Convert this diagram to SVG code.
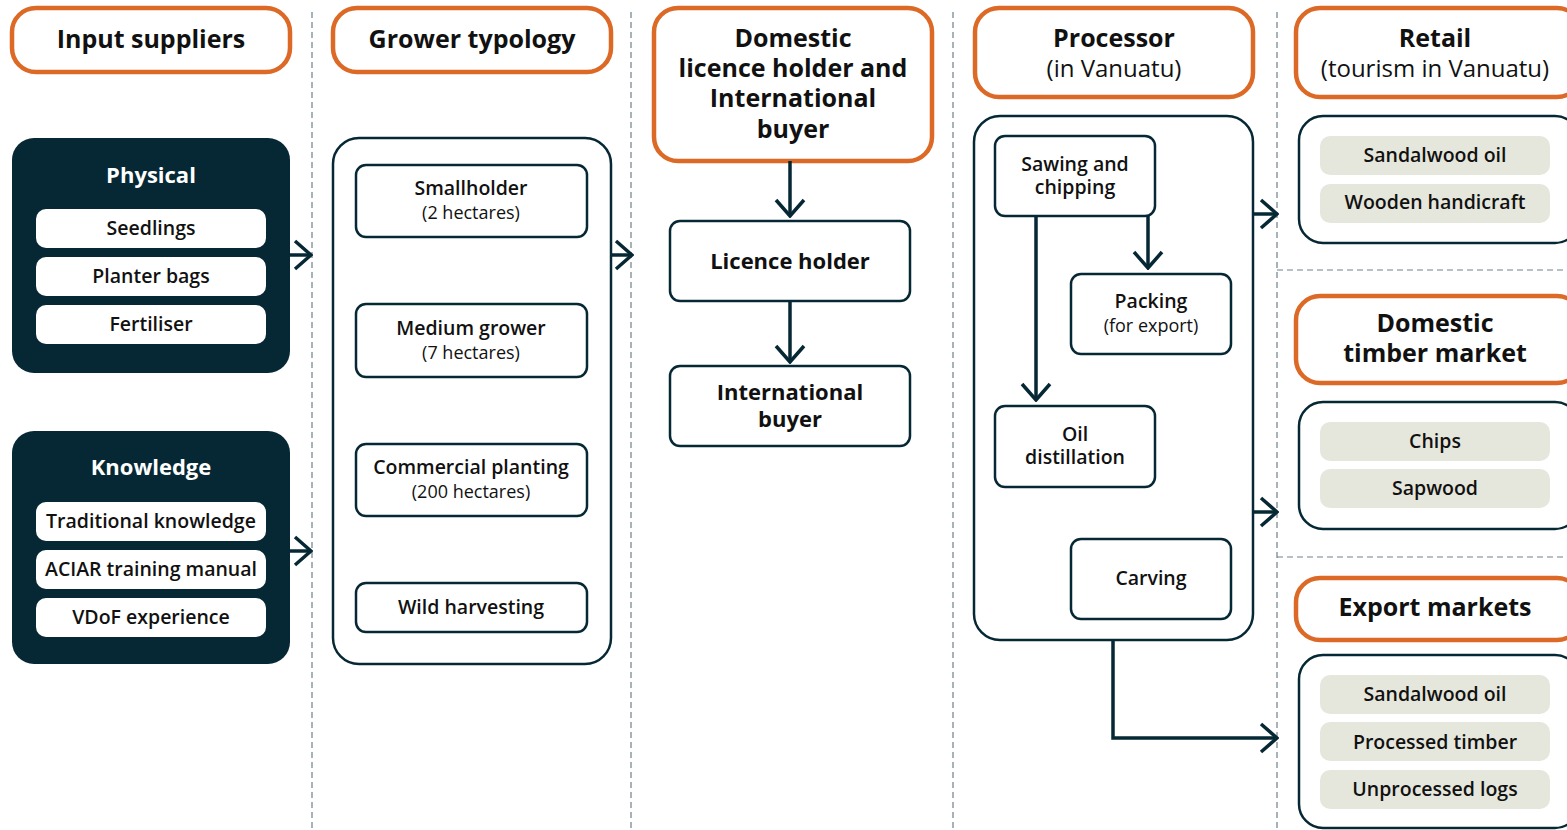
<svg xmlns="http://www.w3.org/2000/svg" width="1567" height="830" viewBox="0 0 1567 830">
<defs>
<style>
text{font-family:"Open Sans","Noto Sans","Liberation Sans",sans-serif;text-anchor:middle;fill:#111;}
.hdr{fill:#fff;stroke:#dc6a26;stroke-width:4.5;}
.ht{font-size:25px;font-weight:700;}
.hr{font-size:24px;font-weight:400;}
.dark{fill:#062835;}
.dt{font-size:22px;font-weight:700;fill:#fff;}
.pill{fill:#fff;}
.pt{font-size:19.5px;font-weight:600;}
.cont{fill:#fff;stroke:#062835;stroke-width:2.5;}
.box{fill:#fff;stroke:#062835;stroke-width:2.5;}
.bt{font-size:19.5px;font-weight:600;}
.br{font-size:18px;font-weight:400;}
.bt2{font-size:22px;font-weight:700;}
.beige{fill:#e6e7dc;}
.sep{stroke:#6f818b;stroke-width:1.2;stroke-dasharray:6 4;fill:none;}
.ln{stroke:#062835;stroke-width:3.5;fill:none;stroke-linejoin:miter;}
</style>
<marker id="chev" viewBox="0 0 20 32" refX="18" refY="16" markerWidth="20" markerHeight="32" markerUnits="userSpaceOnUse" orient="auto">
<path d="M2,2 L18,16 L2,30" fill="none" stroke="#062835" stroke-width="3.5"/>
</marker>
</defs>
<rect width="1567" height="830" fill="#fff"/>

<g id="separators">
<line class="sep" x1="312" y1="12" x2="312" y2="830"/>
<line class="sep" x1="631" y1="12" x2="631" y2="830"/>
<line class="sep" x1="953" y1="12" x2="953" y2="830"/>
<line class="sep" x1="1277" y1="12" x2="1277" y2="830"/>
<line class="sep" x1="1277" y1="270" x2="1567" y2="270"/>
<line class="sep" x1="1277" y1="557" x2="1567" y2="557"/>
</g>

<g id="hdr-input">
<rect class="hdr" x="12" y="8" width="278" height="64" rx="24"/>
<text class="ht" x="151" y="48">Input suppliers</text>
</g>
<g id="hdr-grower">
<rect class="hdr" x="333" y="8" width="278" height="64" rx="24"/>
<text class="ht" x="472" y="48">Grower typology</text>
</g>
<g id="hdr-domestic">
<rect class="hdr" x="654" y="8" width="278" height="153" rx="24"/>
<text class="ht"><tspan x="793" y="47">Domestic</tspan><tspan x="793" y="77">licence holder and</tspan><tspan x="793" y="107">International</tspan><tspan x="793" y="138">buyer</tspan></text>
</g>
<g id="hdr-processor">
<rect class="hdr" x="975" y="8" width="278" height="89" rx="24"/>
<text class="ht"><tspan x="1114" y="47">Processor</tspan><tspan class="hr" x="1114" y="77">(in Vanuatu)</tspan></text>
</g>
<g id="hdr-retail">
<rect class="hdr" x="1296" y="8" width="285" height="89" rx="24"/>
<text class="ht"><tspan x="1435" y="47">Retail</tspan><tspan class="hr" x="1435" y="77">(tourism in Vanuatu)</tspan></text>
</g>
<g id="hdr-timber">
<rect class="hdr" x="1296" y="296" width="285" height="87" rx="24"/>
<text class="ht"><tspan x="1435" y="332">Domestic</tspan><tspan x="1435" y="362">timber market</tspan></text>
</g>
<g id="hdr-export">
<rect class="hdr" x="1296" y="578" width="285" height="62" rx="24"/>
<text class="ht" x="1435" y="616">Export markets</text>
</g>

<g id="physical">
<rect class="dark" x="12" y="138" width="278" height="235" rx="22"/>
<text class="dt" x="151" y="183">Physical</text>
<rect class="pill" x="36" y="209" width="230" height="39" rx="10"/>
<text class="pt" x="151" y="235">Seedlings</text>
<rect class="pill" x="36" y="257" width="230" height="39" rx="10"/>
<text class="pt" x="151" y="283">Planter bags</text>
<rect class="pill" x="36" y="305" width="230" height="39" rx="10"/>
<text class="pt" x="151" y="331">Fertiliser</text>
</g>
<g id="knowledge">
<rect class="dark" x="12" y="431" width="278" height="233" rx="22"/>
<text class="dt" x="151" y="475">Knowledge</text>
<rect class="pill" x="36" y="502" width="230" height="39" rx="10"/>
<text class="pt" x="151" y="528">Traditional knowledge</text>
<rect class="pill" x="36" y="550" width="230" height="39" rx="10"/>
<text class="pt" x="151" y="576">ACIAR training manual</text>
<rect class="pill" x="36" y="598" width="230" height="39" rx="10"/>
<text class="pt" x="151" y="624">VDoF experience</text>
</g>

<g id="grower">
<rect class="cont" x="333" y="138" width="278" height="526" rx="26"/>
<rect class="box" x="356" y="165" width="231" height="72" rx="10"/>
<text class="bt"><tspan x="471" y="195">Smallholder</tspan><tspan class="br" x="471" y="219">(2 hectares)</tspan></text>
<rect class="box" x="356" y="304" width="231" height="73" rx="10"/>
<text class="bt"><tspan x="471" y="335">Medium grower</tspan><tspan class="br" x="471" y="359">(7 hectares)</tspan></text>
<rect class="box" x="356" y="444" width="231" height="72" rx="10"/>
<text class="bt"><tspan x="471" y="474">Commercial planting</tspan><tspan class="br" x="471" y="498">(200 hectares)</tspan></text>
<rect class="box" x="356" y="583" width="231" height="49" rx="10"/>
<text class="bt" x="471" y="614">Wild harvesting</text>
</g>

<g id="licence">
<rect class="box" x="670" y="221" width="240" height="80" rx="10"/>
<text class="bt2" x="790" y="269">Licence holder</text>
</g>
<g id="intl">
<rect class="box" x="670" y="366" width="240" height="80" rx="10"/>
<text class="bt2"><tspan x="790" y="400">International</tspan><tspan x="790" y="427">buyer</tspan></text>
</g>

<g id="processor">
<rect class="cont" x="974" y="116" width="279" height="524" rx="26"/>
<rect class="box" x="995" y="136" width="160" height="80" rx="10"/>
<text class="bt"><tspan x="1075" y="171">Sawing and</tspan><tspan x="1075" y="194">chipping</tspan></text>
<rect class="box" x="1071" y="274" width="160" height="80" rx="10"/>
<text class="bt"><tspan x="1151" y="308">Packing</tspan><tspan class="br" x="1151" y="332">(for export)</tspan></text>
<rect class="box" x="995" y="406" width="160" height="81" rx="10"/>
<text class="bt"><tspan x="1075" y="441">Oil</tspan><tspan x="1075" y="464">distillation</tspan></text>
<rect class="box" x="1071" y="539" width="160" height="80" rx="10"/>
<text class="bt" x="1151" y="585">Carving</text>
</g>

<g id="retail">
<rect class="cont" x="1299" y="116" width="280" height="127" rx="24"/>
<rect class="beige" x="1320" y="136" width="230" height="39" rx="10"/>
<text class="pt" x="1435" y="162">Sandalwood oil</text>
<rect class="beige" x="1320" y="184" width="230" height="39" rx="10"/>
<text class="pt" x="1435" y="209">Wooden handicraft</text>
</g>
<g id="timber">
<rect class="cont" x="1299" y="402" width="280" height="127" rx="24"/>
<rect class="beige" x="1320" y="422" width="230" height="39" rx="10"/>
<text class="pt" x="1435" y="448">Chips</text>
<rect class="beige" x="1320" y="469" width="230" height="39" rx="10"/>
<text class="pt" x="1435" y="495">Sapwood</text>
</g>
<g id="export">
<rect class="cont" x="1299" y="655" width="280" height="173" rx="24"/>
<rect class="beige" x="1320" y="675" width="230" height="39" rx="10"/>
<text class="pt" x="1435" y="701">Sandalwood oil</text>
<rect class="beige" x="1320" y="722" width="230" height="39" rx="10"/>
<text class="pt" x="1435" y="749">Processed timber</text>
<rect class="beige" x="1320" y="770" width="230" height="39" rx="10"/>
<text class="pt" x="1435" y="796">Unprocessed logs</text>
</g>

<g id="connectors">
<line class="ln" x1="290" y1="255" x2="311" y2="255" marker-end="url(#chev)"/>
<line class="ln" x1="290" y1="551" x2="311" y2="551" marker-end="url(#chev)"/>
<line class="ln" x1="611" y1="255" x2="632" y2="255" marker-end="url(#chev)"/>
<line class="ln" x1="790" y1="161" x2="790" y2="216" marker-end="url(#chev)"/>
<line class="ln" x1="790" y1="301" x2="790" y2="362" marker-end="url(#chev)"/>
<line class="ln" x1="1036" y1="216" x2="1036" y2="400" marker-end="url(#chev)"/>
<line class="ln" x1="1148" y1="216" x2="1148" y2="268" marker-end="url(#chev)"/>
<line class="ln" x1="1253" y1="214" x2="1277" y2="214" marker-end="url(#chev)"/>
<line class="ln" x1="1253" y1="512" x2="1277" y2="512" marker-end="url(#chev)"/>
<polyline class="ln" points="1113,640 1113,738 1277,738" marker-end="url(#chev)"/>
</g>
</svg>
